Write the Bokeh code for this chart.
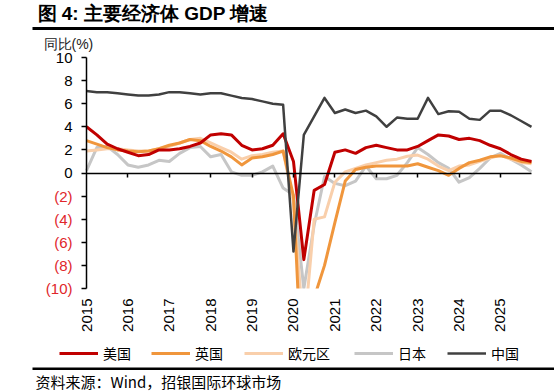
import math
from bokeh.plotting import figure
from bokeh.models import (Range1d, FixedTicker, LinearAxis, BoxAnnotation,
                          Legend, LegendItem)
from bokeh.core.properties import value
from bokeh.embed import file_html
from bokeh.resources import INLINE

# ---------------- data (quarterly, 2015Q1 ..) ----------------
years = ["2015", "2016", "2017", "2018", "2019", "2020",
         "2021", "2022", "2023", "2024", "2025"]

us = [4.0, 3.3, 2.5, 2.1, 1.8, 1.5, 1.6, 2.0, 2.0, 2.1, 2.3, 2.6,
      3.3, 3.4, 3.3, 2.4, 2.0, 2.1, 2.4, 3.4, 1.0, -7.5, -1.5, -1.0,
      1.8, 2.0, 1.7, 2.2, 2.4, 2.2, 2.0, 2.0, 2.3, 2.8, 3.3, 3.2,
      2.9, 3.0, 2.8, 2.4, 2.1, 1.6, 1.2, 1.0]

uk = [2.8, 2.5, 2.2, 2.0, 1.9, 1.85, 1.9, 2.1, 2.4, 2.6, 2.9, 2.8,
      2.3, 1.9, 1.4, 0.7, 1.3, 1.4, 1.6, 1.9, -2.0, -21.0, -10.8, -8.0,
      -4.3, -0.7, 0.3, 0.5, 0.6, 0.6, 0.6, 0.6, 0.8, 0.5, 0.2, -0.2,
      0.4, 0.9, 1.1, 1.4, 1.5, 1.3, 1.0, 0.9]

euro = [1.9, 2.0, 2.1, 2.1, 2.0, 1.9, 1.9, 2.1, 2.3, 2.6, 2.9, 3.0,
        2.6, 2.2, 1.8, 1.2, 1.5, 1.6, 1.8, 1.9, -2.5, -14.0, -4.0, -3.8,
        -0.8, 0.1, 0.4, 0.7, 0.9, 1.1, 1.2, 1.45, 1.55, 1.2, 0.6, 0.2,
        0.6, 0.7, 1.0, 1.3, 1.55, 1.2, 0.9, 0.8]

japan = [0.2, 2.2, 2.3, 1.6, 0.7, 0.5, 0.7, 1.1, 1.0, 1.7, 2.2, 2.3,
         1.4, 1.6, 0.1, -0.2, -0.2, 0.1, 0.6, -1.3, -1.9, -10.0, -4.5, -0.3,
         -0.9, -1.1, -0.7, 0.6, -0.5, -0.5, -0.2, 0.9, 2.2, 1.6, 0.9, 0.4,
         -0.8, -0.4, 0.4, 1.3, 1.7, 1.2, 0.7, 0.1]

china = [7.1, 7.0, 7.0, 6.9, 6.8, 6.7, 6.7, 6.8, 7.0, 7.0, 6.9, 6.8,
         6.9, 6.9, 6.7, 6.5, 6.4, 6.2, 6.0, 5.9, -6.8, 3.3, 4.9, 6.5,
         5.2, 5.5, 5.2, 5.4, 4.9, 4.0, 4.8, 4.7, 4.7, 6.5, 5.1, 5.35,
         5.3, 4.7, 4.6, 5.4, 5.4, 5.0, 4.5, 4.0]

y_ticks = [10, 8, 6, 4, 2, 0, -2, -4, -6, -8, -10]
y_tick_labels = ["10", "8", "6", "4", "2", "0", "(2)", "(4)", "(6)", "(8)", "(10)"]

series_names = ["美国", "英国", "欧元区", "日本", "中国"]
series_colors = ["#C00000", "#F0963C", "#F9CFAB", "#C6C6C6", "#404040"]

title_text = "图 4: 主要经济体 GDP 增速"
unit_text = "同比(%)"
source_text = "资料来源：Wind，招银国际环球市场"

n = len(china)
x = list(range(n))
year_ticks = [4 * i for i in range(len(years))]
Y_MIN, Y_MAX = -10, 10

LATIN = "Liberation Sans"
CJK = "Noto Sans CJK SC"
NEG_RED = "#E0262B"

# ---------------- page geometry (pixels) ----------------
W, H = 554, 391
PLOT_L, PLOT_R = 86, 531     # pixel x of first / last quarter
PLOT_T, PLOT_B = 57, 288     # pixel y of +10 / -10
px_x = (PLOT_R - PLOT_L) / (n - 1)
px_y = (PLOT_B - PLOT_T) / (Y_MAX - Y_MIN)

p = figure(width=W, height=H, output_backend="svg", toolbar_location=None,
           x_range=Range1d(-PLOT_L / px_x, (n - 1) + (W - PLOT_R) / px_x),
           y_range=Range1d(Y_MIN - (H - PLOT_B) / px_y, Y_MAX + PLOT_T / px_y),
           x_axis_location=None, y_axis_location=None, min_border=0)
p.grid.visible = False
p.outline_line_color = None
p.extra_x_ranges = {"px": Range1d(0, W)}
p.extra_y_ranges = {"px": Range1d(H, 0)}

# ---------------- series ----------------
data = [us, uk, euro, japan, china]
renderers = {}
for idx in [3, 2, 1, 0, 4]:
    renderers[idx] = p.line(x, data[idx], line_color=series_colors[idx],
                            line_width=2.5 if idx == 4 else 3,
                            line_join="round", level="underlay")

# lines end at the bottom of the value axis
p.add_layout(BoxAnnotation(top=Y_MIN, left=-0.5, right=n - 0.5,
                           fill_color="white", fill_alpha=1, line_color=None,
                           level="glyph"))

# ---------------- axes ----------------
yax = LinearAxis(fixed_location=0, bounds=(Y_MIN, Y_MAX),
                 ticker=FixedTicker(ticks=y_ticks),
                 major_label_overrides={t: (l if t >= 0 else "")
                                        for t, l in zip(y_ticks, y_tick_labels)},
                 axis_line_color="black", axis_line_width=1.5,
                 major_tick_line_color="black", major_tick_line_width=1.5,
                 major_tick_out=5, major_tick_in=0, minor_tick_line_color=None,
                 major_label_standoff=9, major_label_text_font=LATIN,
                 major_label_text_font_size="15px", major_label_text_color="black")
p.add_layout(yax, "left")
neg_ticks = [t for t in y_ticks if t < 0]
yax_neg = LinearAxis(fixed_location=0, bounds=(Y_MIN, Y_MAX),
                     ticker=FixedTicker(ticks=neg_ticks),
                     major_label_overrides={t: l for t, l in zip(y_ticks, y_tick_labels)
                                            if t < 0},
                     axis_line_color=None, major_tick_line_color=None,
                     major_tick_out=5, major_tick_in=0, minor_tick_line_color=None,
                     major_label_standoff=9, major_label_text_font=LATIN,
                     major_label_text_font_size="15px", major_label_text_color=NEG_RED)
p.add_layout(yax_neg, "left")

zero_ax = LinearAxis(fixed_location=0, bounds=(0, n - 1),
                     ticker=FixedTicker(ticks=year_ticks[1:]),
                     major_label_overrides={t: "" for t in year_ticks},
                     axis_line_color="black", axis_line_width=1.5,
                     major_tick_line_color="black", major_tick_line_width=1.5,
                     major_tick_out=4, major_tick_in=0, minor_tick_line_color=None)
p.add_layout(zero_ax, "below")

xax = LinearAxis(fixed_location=Y_MIN, ticker=FixedTicker(ticks=year_ticks),
                 major_label_overrides={t: years[i] for i, t in enumerate(year_ticks)},
                 axis_line_color=None, major_tick_line_color=None,
                 major_tick_out=0, major_tick_in=0, minor_tick_line_color=None,
                 major_label_orientation=math.pi / 2, major_label_standoff=10,
                 major_label_text_font=LATIN, major_label_text_font_size="15px",
                 major_label_text_color="black")
p.add_layout(xax, "below")

# ---------------- header / footer ----------------
p.text(x=[37], y=[13], text=[title_text], x_range_name="px", y_range_name="px",
       text_font=value(LATIN), text_font_style="bold", text_font_size="19px",
       text_baseline="middle", text_color="black", level="overlay")
p.add_layout(BoxAnnotation(left=32, right=W, top=26.5, bottom=29.5,
                           x_range_name="px", y_range_name="px",
                           fill_color="black", fill_alpha=1, line_color=None,
                           level="overlay"))
p.text(x=[43], y=[43], text=[unit_text], x_range_name="px", y_range_name="px",
       text_font=value(LATIN), text_font_size="14px", text_baseline="middle",
       text_color="#222222", level="overlay")

legend_x = [59, 151, 244, 354, 447]
for i in range(5):
    lg = Legend(items=[LegendItem(label=series_names[i], renderers=[renderers[i]])],
                location=(legend_x[i], 28), glyph_width=39, glyph_height=16,
                label_standoff=5, padding=0, margin=0, border_line_color=None,
                background_fill_alpha=0, label_text_font=CJK,
                label_text_font_size="14px", label_text_color="black")
    p.add_layout(lg, "center")

p.add_layout(BoxAnnotation(left=32, right=W, top=367, bottom=369.5,
                           x_range_name="px", y_range_name="px",
                           fill_color="black", fill_alpha=1, line_color=None,
                           level="overlay"))
p.text(x=[35], y=[381], text=[source_text], x_range_name="px", y_range_name="px",
       text_font=value(CJK), text_font_size="15px", text_baseline="middle",
       text_color="black", level="overlay")

open("out.html", "w").write(file_html(p, INLINE))
